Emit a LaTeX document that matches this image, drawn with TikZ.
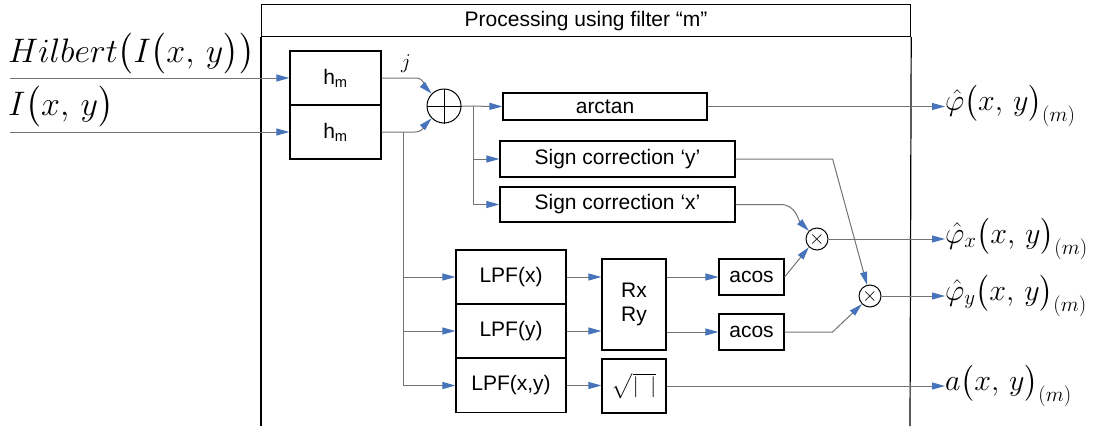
\RequirePackage{fix-cm}
\documentclass[tikz,border=0pt]{standalone}
\usepackage{amsmath,amssymb}
\usepackage{fontspec}
\setsansfont{Liberation Sans}
\usepackage{tikz}
\usetikzlibrary{arrows.meta,positioning,calc}
\definecolor{wiregray}{RGB}{115,115,115}
\definecolor{tipblue}{RGB}{70,115,185}

\begin{document}
\begin{tikzpicture}[x=1pt,y=1pt,
  blk/.style={draw,line width=1.2pt,inner sep=0pt,font=\sffamily\fontsize{21}{24}\selectfont},
  wire/.style={draw=wiregray,line width=1pt},
  conn/.style={wire,-{Triangle[length=13pt,width=7pt,color=tipblue]}},
  mult/.style={draw,circle,line width=1pt,minimum size=22pt,inner sep=0pt,font=\fontsize{20}{24}\selectfont},
  bigmath/.style={anchor=base west,inner sep=0pt,font=\fontsize{34}{40}\selectfont},
  outlbl/.style={anchor=west,inner sep=0pt,font=\fontsize{30}{36}\selectfont}]
\useasboundingbox (0,0) rectangle (1097,-426);

% frame with title band
\node[draw,line width=1.2pt,anchor=north west,minimum width=649pt,minimum height=32pt,
  font=\sffamily\fontsize{21}{24}\selectfont] (title) at (261,-4) {Processing using filter “m”};
\draw[line width=1.2pt] (title.south west) -- (261,-426);
\draw[line width=1.2pt] (title.south east) -- (910,-426);

% inputs
\node[bigmath] (hilb) at (8,-62) {$Hilbert\bigl(I\bigl(x,\,y\bigr)\bigr)$};
\node[bigmath] (ixy) at (8,-115) {$I\bigl(x,\,y\bigr)$};
\coordinate (inA) at (10,-78);
\coordinate (inB) at (10,-132);

\node[blk,minimum width=91pt,minimum height=54pt] (hA) at (335.5,-78) {h\textsubscript{m}};
\node[blk,minimum width=91pt,minimum height=54pt] (hB) at (335.5,-132) {h\textsubscript{m}};
\node[font=\fontsize{21}{24}\selectfont] (jlbl) at (406,-64) {$j$};

\node[mult,minimum size=34pt] (sum) at (444,-106) {};
\draw[line width=1pt] (sum.north) -- (sum.south) (sum.west) -- (sum.east);

% processing blocks
\node[blk,minimum width=204pt,minimum height=27pt] (arctan) at (605,-106.5) {arctan};
\node[blk,minimum width=235pt,minimum height=36pt] (signy) at (617.5,-159) {Sign correction ‘y’};
\node[blk,minimum width=235pt,minimum height=35pt] (signx) at (617.5,-204.5) {Sign correction ‘x’};

\node[blk,minimum width=110pt,minimum height=54pt] (lpfx) at (511,-277) {LPF(x)};
\node[blk,minimum width=110pt,minimum height=54pt] (lpfy) at (511,-331) {LPF(y)};
\node[blk,minimum width=110pt,minimum height=54pt] (lpfxy) at (511,-385.5) {LPF(x,y)};

\node[blk,minimum width=64pt,minimum height=91pt,align=center] (rxry) at (634,-304.5) {Rx\\Ry};
\node[blk,minimum width=64pt,minimum height=54pt] (sqrtb) at (634,-386) {$\sqrt{|\;\;|}$};

\node[blk,minimum width=65pt,minimum height=36pt] (acosA) at (751.5,-277) {acos};
\node[blk,minimum width=65pt,minimum height=36pt] (acosB) at (751.5,-332) {acos};

\node[mult] (mulx) at (817,-239) {$\times$};
\node[mult] (muly) at (870,-296) {$\times$};

% outputs
\node[outlbl] (phi) at (945,-106) {$\hat\varphi\bigl(x,\,y\bigr)_{(m)}$};
\node[outlbl] (phix) at (945,-239) {$\hat\varphi_x\bigl(x,\,y\bigr)_{(m)}$};
\node[outlbl] (phiy) at (945,-296) {$\hat\varphi_y\bigl(x,\,y\bigr)_{(m)}$};
\node[outlbl] (amp) at (945,-386) {$a\bigl(x,\,y\bigr)_{(m)}$};

% wiring
\coordinate (splitA) at (403,-132);
\coordinate (splitB) at (473,-106);
\draw[conn] (inA) -- (hA.west);
\draw[conn] (inB) -- (hB.west);
\draw[conn] (hA.east) -- ++(34,0) to[out=0,in=135] (sum.135);
\draw[conn] (hB.east) -- (splitA) -- ++(12,0) to[out=0,in=-135] (sum.-135);
\draw[conn] (splitA) |- (lpfx.west);
\draw[conn] (splitA) |- (lpfy.west);
\draw[conn] (splitA) |- (lpfxy.west);

\draw[conn] (sum.east) -- (arctan.west);
\draw[conn] (splitB) |- (signy.west);
\draw[conn] (splitB) |- (signx.west);

\draw[conn] (lpfx.east) -- (rxry.west |- lpfx.east);
\draw[conn] (lpfy.east) -- (rxry.west |- lpfy.east);
\draw[conn] (lpfxy.east) -- (sqrtb.west |- lpfxy.east);
\draw[conn] (rxry.east |- acosA.west) -- (acosA.west);
\draw[conn] (rxry.east |- acosB.west) -- (acosB.west);

\draw[conn] (signx.east) -- ++(45,0) to[out=0,in=135] (mulx.135);
\draw[conn] (acosA.east) -- (mulx.-135);
\draw[conn] (signy.east) -- ++(97,0) -- (muly.105);
\draw[conn] (acosB.east) -- ++(48,0) -- (muly.-135);

\draw[conn] (arctan.east) -- (phi.west |- arctan.east);
\draw[conn] (mulx.east) -- (phix.west |- mulx.east);
\draw[conn] (muly.east) -- (phiy.west |- muly.east);
\draw[conn] (sqrtb.east) -- (amp.west |- sqrtb.east);
\end{tikzpicture}
\end{document}
